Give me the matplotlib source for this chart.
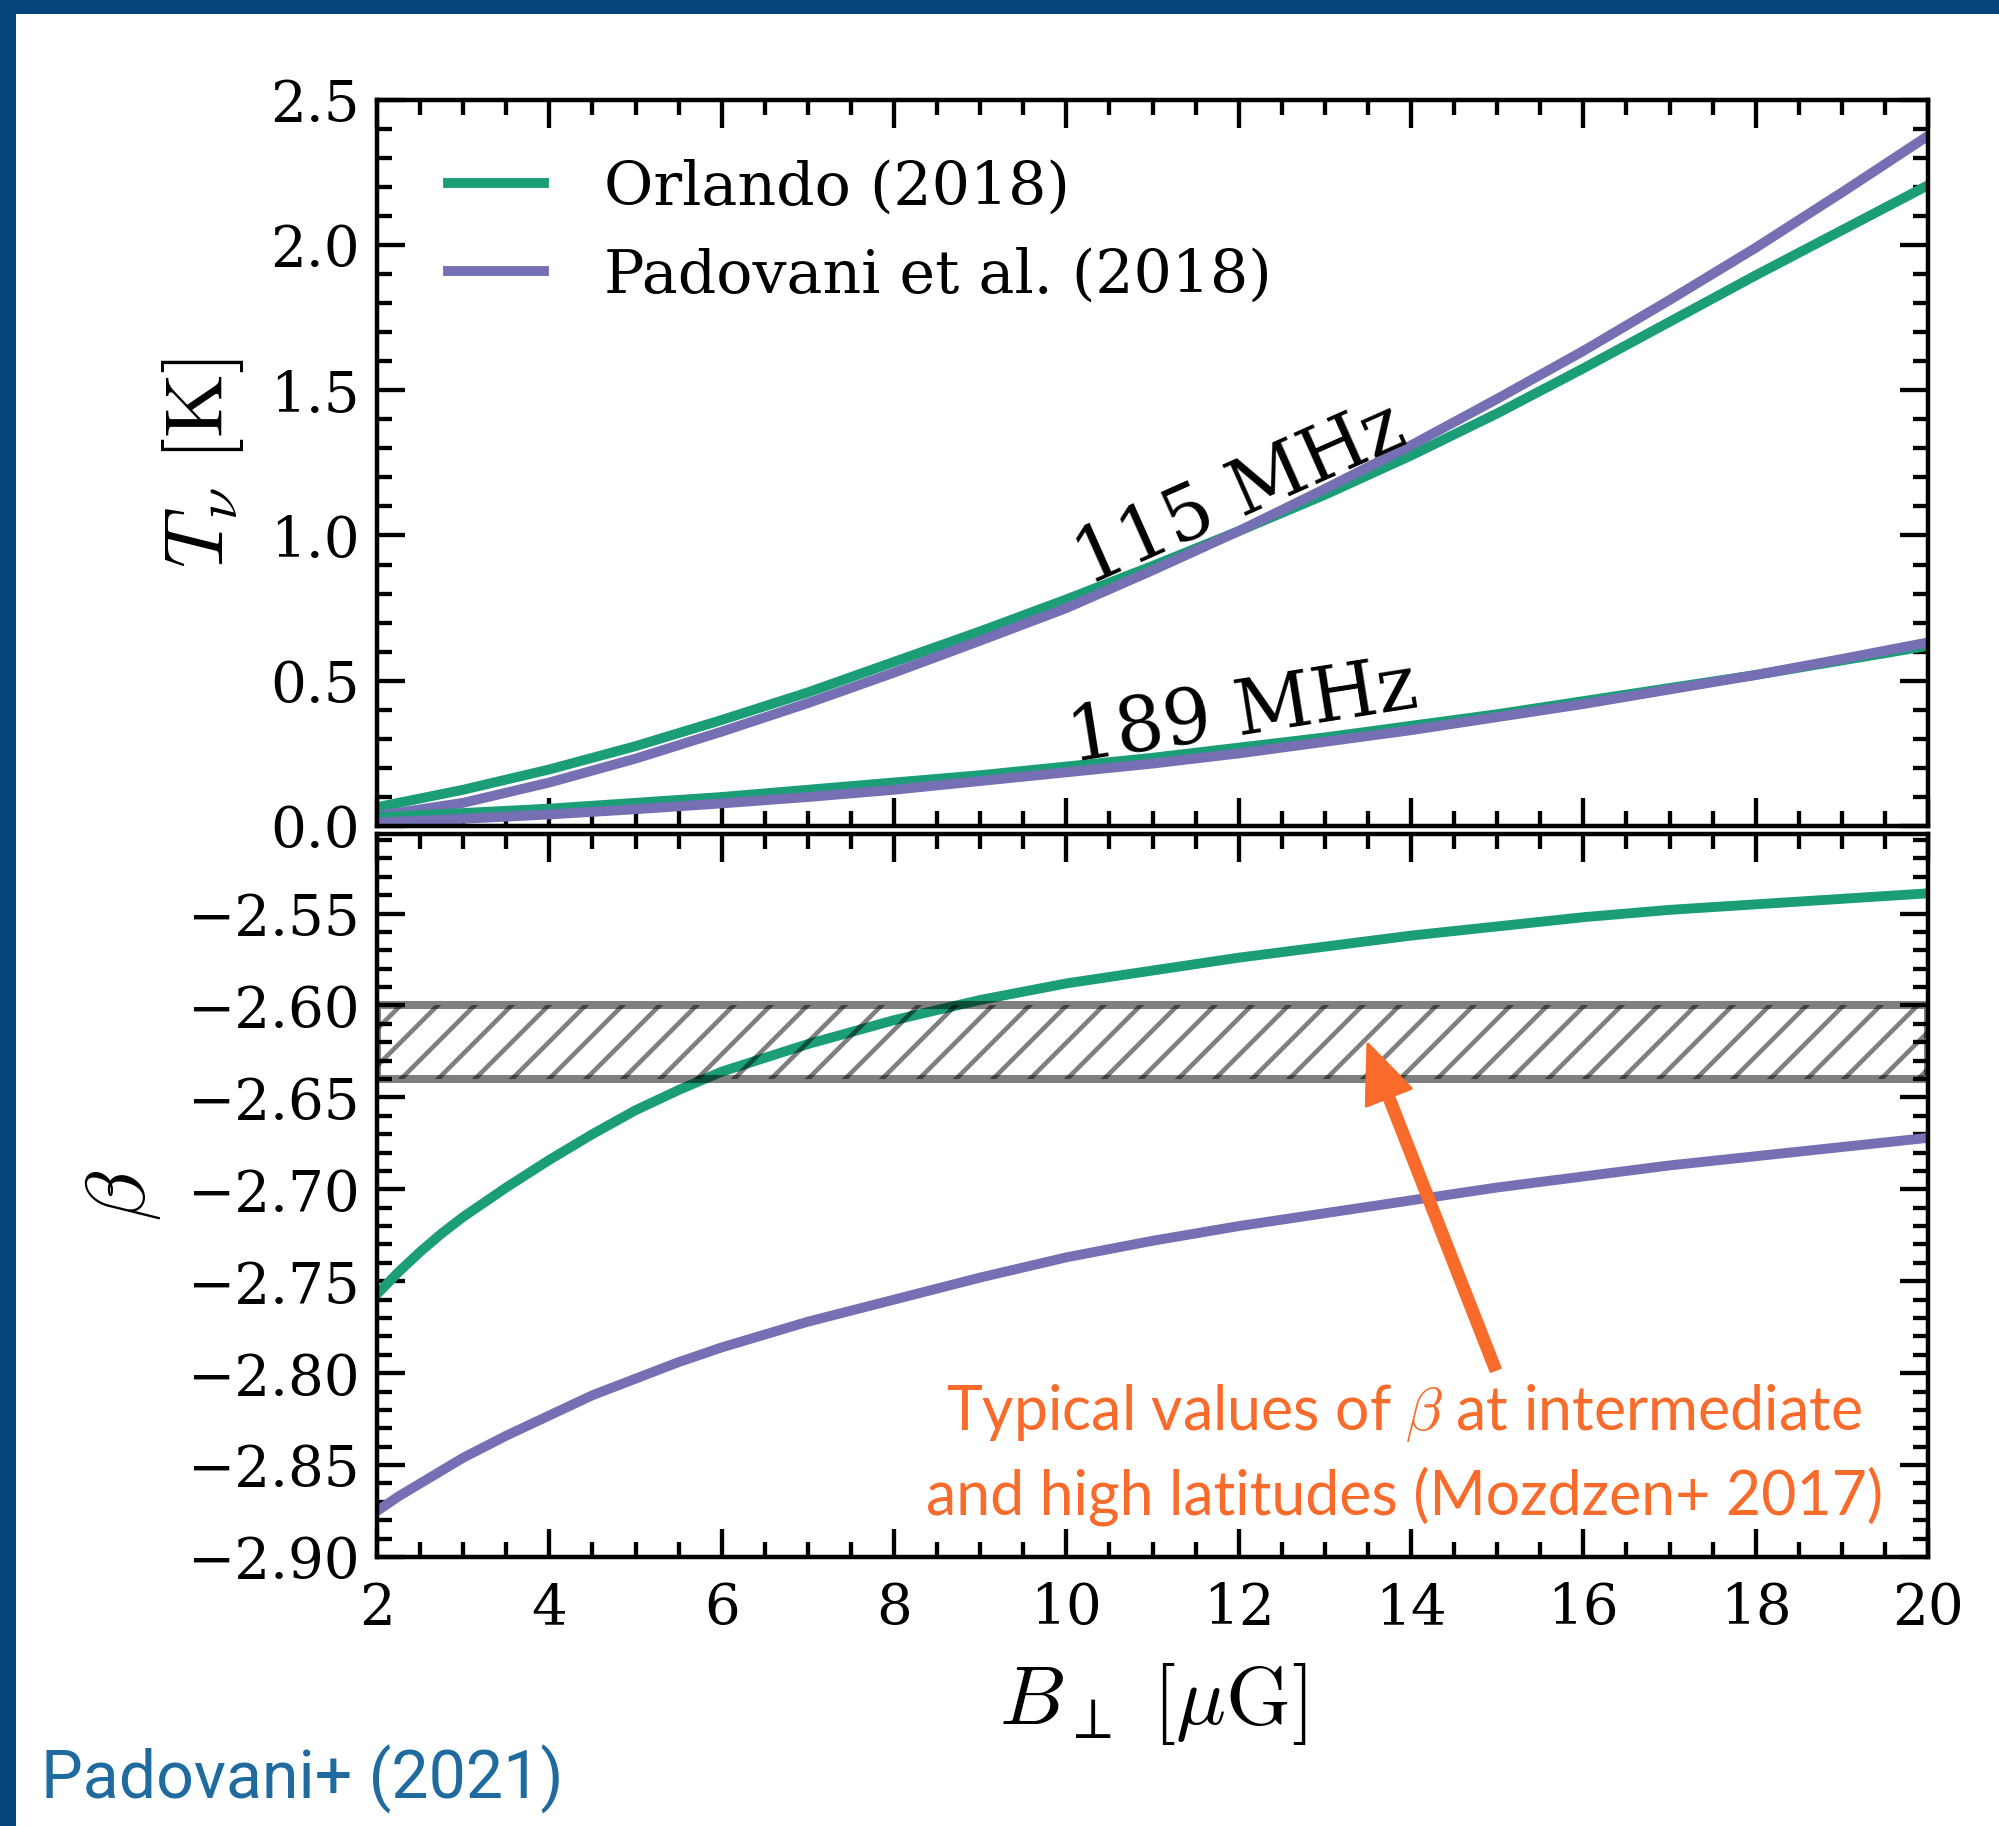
import matplotlib
matplotlib.use("Agg")
import matplotlib.pyplot as plt
from matplotlib.patches import Rectangle
from matplotlib.ticker import MultipleLocator

# brightness temperature (K) vs B_perp (muG)
B = [2, 3, 4, 5, 6, 7, 8, 9, 10, 11, 12, 13, 14, 15, 16, 17, 18, 19, 20]
T115_orlando = [0.065, 0.125, 0.195, 0.275, 0.365, 0.46, 0.565, 0.67, 0.78, 0.895,
                1.015, 1.14, 1.275, 1.42, 1.575, 1.735, 1.895, 2.05, 2.205]
T115_padovani = [0.035, 0.08, 0.15, 0.232, 0.325, 0.423, 0.528, 0.638, 0.75, 0.88,
                 1.015, 1.16, 1.31, 1.47, 1.635, 1.81, 1.99, 2.18, 2.375]
T189_orlando = [0.03, 0.045, 0.06, 0.08, 0.1, 0.125, 0.15, 0.175, 0.205, 0.235,
                0.27, 0.305, 0.345, 0.385, 0.43, 0.475, 0.52, 0.57, 0.62]
T189_padovani = [0.012, 0.025, 0.04, 0.058, 0.078, 0.1, 0.125, 0.155, 0.185, 0.215,
                 0.25, 0.29, 0.33, 0.375, 0.42, 0.47, 0.52, 0.575, 0.632]

# spectral index beta vs B_perp
B_beta = [2, 2.25, 2.5, 2.75, 3, 3.5, 4, 4.5, 5, 5.5, 6, 7, 8, 9, 10, 11, 12, 13, 14,
          15, 16, 17, 18, 19, 20]
beta_orlando = [-2.757, -2.745, -2.734, -2.724, -2.715, -2.699, -2.684, -2.670, -2.657,
                -2.646, -2.636, -2.621, -2.608, -2.597, -2.588, -2.581, -2.574, -2.568,
                -2.562, -2.557, -2.552, -2.548, -2.545, -2.542, -2.539]
beta_padovani = [-2.875, -2.867, -2.860, -2.853, -2.846, -2.834, -2.823, -2.812, -2.803,
                 -2.794, -2.786, -2.772, -2.760, -2.748, -2.737, -2.728, -2.720, -2.713,
                 -2.706, -2.699, -2.693, -2.687, -2.682, -2.677, -2.672]
band_lo, band_hi = -2.64, -2.60

plt.rcParams['font.family'] = 'serif'
plt.rcParams['font.serif'] = ['DejaVu Serif']
plt.rcParams['mathtext.fontset'] = 'cm'
plt.rcParams['hatch.linewidth'] = 1.5

green = '#1B9E77'
purple = '#7570B3'
orange = '#F86B2B'
dpi = 222

fig = plt.figure(figsize=(1999 / dpi, 1826 / dpi), dpi=dpi)
ax1 = fig.add_axes([0.1886, 0.5476, 0.7759, 0.3979])
ax2 = fig.add_axes([0.1886, 0.1473, 0.7759, 0.3957])

lw = 3.2
ax1.plot(B, T115_orlando, color=green, lw=lw, label='Orlando (2018)')
ax1.plot(B, T115_padovani, color=purple, lw=lw, label='Padovani et al. (2018)')
ax1.plot(B, T189_orlando, color=green, lw=lw)
ax1.plot(B, T189_padovani, color=purple, lw=lw)

ax1.text(12.02, 1.14, '115 MHz', rotation=24, ha='center', va='center', fontsize=24.6,
         rotation_mode='anchor')
ax1.text(12.05, 0.386, '189 MHz', rotation=9, ha='center', va='center', fontsize=24.6,
         rotation_mode='anchor')

ax1.legend(loc='upper left', bbox_to_anchor=(0.030, 0.952), borderaxespad=0,
           frameon=False, fontsize=19.5, handlelength=1.6, handletextpad=1.0,
           labelspacing=0.5)

ax2.plot(B_beta, beta_orlando, color=green, lw=lw)
ax2.plot(B_beta, beta_padovani, color=purple, lw=lw)
ax2.axhspan(band_lo, band_hi, facecolor='none', edgecolor=(0, 0, 0, 0.5), hatch='//',
            lw=2.6, zorder=3)

ax2.annotate('', xy=(13.5, -2.621), xytext=(14.98, -2.798),
             arrowprops=dict(width=3.2, headwidth=15.6, headlength=18.5, color=orange,
                             shrink=0))
ax2.text(13.92, -2.844,
         'Typical values of $\\beta$ at intermediate\nand high latitudes (Mozdzen+ 2017)',
         ha='center', va='center', color=orange, fontsize=19.7,
         family=['Lato', 'DejaVu Sans'], linespacing=1.45)

for ax in (ax1, ax2):
    ax.set_xlim(2, 20)
    ax.xaxis.set_major_locator(MultipleLocator(2))
    ax.xaxis.set_minor_locator(MultipleLocator(0.5))
    ax.tick_params(which='both', direction='in', top=True, right=True, width=1.4,
                   labelsize=18.3)
    ax.tick_params(which='major', length=9)
    ax.tick_params(which='minor', length=4.9)
    ax.tick_params(axis='y', pad=5.5)
    ax.tick_params(axis='x', pad=8)
    for s in ax.spines.values():
        s.set_linewidth(1.45)

ax1.set_ylim(0, 2.5)
ax1.yaxis.set_major_locator(MultipleLocator(0.5))
ax1.yaxis.set_minor_locator(MultipleLocator(0.1))
ax1.tick_params(labelbottom=False)
ax1.set_ylabel(r'$T_\nu\ [\mathrm{K}]$', fontsize=27, labelpad=8)

ax2.set_ylim(-2.9, -2.507)
ax2.yaxis.set_major_locator(MultipleLocator(0.05))
ax2.yaxis.set_minor_locator(MultipleLocator(0.01))
ax2.set_ylabel(r'$\beta$', fontsize=27, labelpad=8)
ax2.set_xlabel(r'$B_\perp\ [\mu\mathrm{G}]$', fontsize=27, labelpad=8)

# slide frame
fig.add_artist(Rectangle((0, 1 - 14 / 1826), 1, 14 / 1826, transform=fig.transFigure,
                         color='#03457A', lw=0))
fig.add_artist(Rectangle((0, 0), 16 / 1999, 1, transform=fig.transFigure,
                         color='#03457A', lw=0))
fig.text(41 / 1999, 1 - 1779 / 1826, 'Padovani+ (2021)', color='#1F6A9E', fontsize=21.5,
         family=['Liberation Sans Narrow', 'Roboto', 'DejaVu Sans'], va='center',
         ha='left')

fig.savefig('out.png', dpi=dpi)
